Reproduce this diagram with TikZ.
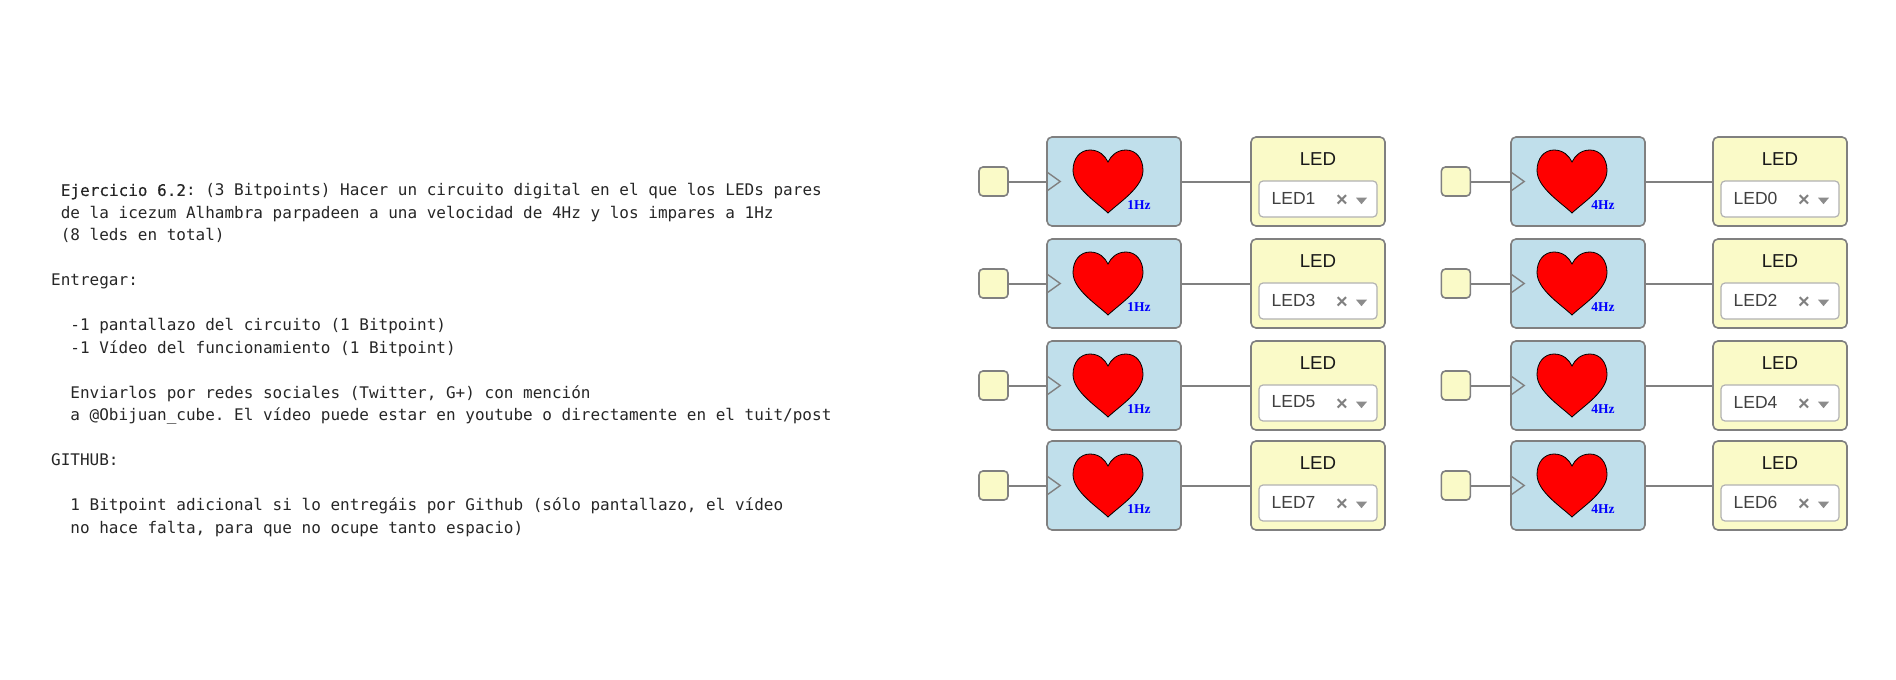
\documentclass[tikz,border=0pt]{standalone}
\usepackage{fontspec}
\setmainfont{Liberation Sans}
\setmonofont{DejaVu Sans Mono}
\newfontfamily\hzfont{Liberation Serif}
\newfontfamily\boldmono[FakeBold=0.5]{DejaVu Sans Mono}
\usetikzlibrary{positioning}
\definecolor{wiregray}{HTML}{808080}
\definecolor{blockblue}{HTML}{C0DFEB}
\definecolor{blockyellow}{HTML}{FAFAC8}
\tikzset{
block/.style={draw=wiregray, line width=1.6pt, rounded corners=5pt, minimum width=134pt, minimum height=89pt, inner sep=0pt},
clockblock/.style={block, fill=blockblue},
ledblock/.style={block, fill=blockyellow},
inputblock/.style={draw=wiregray, line width=1.6pt, rounded corners=4pt, fill=blockyellow, minimum width=29pt, minimum height=29pt, inner sep=0pt},
wire/.style={draw=wiregray, line width=2pt},
selectbox/.style={draw=black!30, line width=1.2pt, rounded corners=4pt, fill=white, minimum width=118pt, minimum height=36pt, inner sep=0pt},
ledtitle/.style={font=\fontsize{18.7}{20}\selectfont, text=black!90, inner sep=0pt},
ledname/.style={font=\fontsize{17.5}{18}\selectfont, text=black!75, inner sep=0pt},
hzlabel/.style={font=\hzfont\bfseries\fontsize{13.5}{14}\selectfont, text=blue, inner sep=0pt},
clearmark/.style={font=\bfseries\fontsize{20}{20}\selectfont, text=black!50, inner sep=0pt},
}
\begin{document}
\begin{tikzpicture}[x=1pt,y=-1pt]
  \useasboundingbox (0,0) rectangle (1896,680);
  % statement text
  \node (statement) [anchor=north west, inner sep=0pt, align=left, text=black!85, font=\ttfamily\fontsize{16}{22.5}\selectfont] at (51,183.5) {%
    \ {\boldmono Ejercicio 6.2}: (3 Bitpoints) Hacer un circuito digital en el que los LEDs pares\\
    \ de la icezum Alhambra parpadeen a una velocidad de 4Hz y los impares a 1Hz\\
    \ (8 leds en total)\\
    \strut\\
    Entregar:\\
    \strut\\
    \ \ -1 pantallazo del circuito (1 Bitpoint)\\
    \ \ -1 Vídeo del funcionamiento (1 Bitpoint)\\
    \strut\\
    \ \ Enviarlos por redes sociales (Twitter, G+) con mención\\
    \ \ a @Obijuan\_cube. El vídeo puede estar en youtube o directamente en el tuit/post\\
    \strut\\
    GITHUB:\\
    \strut\\
    \ \ 1 Bitpoint adicional si lo entregáis por Github (sólo pantallazo, el vídeo\\
    \ \ no hace falta, para que no ocupe tanto espacio)};
  % blocks, column by column
  \foreach \col/\xpos/\xled/\gap/\hz/\names in {l/1114/1318/37.4pt/1Hz/{1,3,5,7}, r/1578/1780/39pt/4Hz/{0,2,4,6}} {
    \foreach \y [count=\row] in \names {
      \pgfmathsetmacro{\ypos}{\row==4 ? 485.5 : 181.5+102*(\row-1)}
      \node (blk\col\row) [clockblock] at (\xpos,\ypos) {};
      \node (led\col\row) [ledblock] at (\xled,\ypos) {};
      \node (in\col\row) [inputblock, left=\gap of blk\col\row] {};
      \draw[wire] (in\col\row) -- (blk\col\row);
      \draw[wire] (blk\col\row) -- (led\col\row);
      % clock mark
      \draw[wiregray, line width=1.4pt] (blk\col\row.west) ++(0,-10) -- ++(14,10) -- ++(-14,10);
      % heart
      \begin{scope}[shift={(blk\col\row.center)}]
        \draw[black, fill=red, line width=0.8pt] (-6,-19.5)
          .. controls (-9,-26) and (-15,-31.5) .. (-24,-31.5)
          .. controls (-34,-31.5) and (-41,-23) .. (-41,-11)
          .. controls (-41,6) and (-17,21) .. (-6,31.5)
          .. controls (5,21) and (29,6) .. (29,-11)
          .. controls (29,-23) and (22,-31.5) .. (12,-31.5)
          .. controls (3,-31.5) and (-3,-26) .. cycle;
      \end{scope}
      \node (hz\col\row) [hzlabel] at ([xshift=25pt,yshift=-24pt]blk\col\row.center) {\hz};
      % led selector
      \node (title\col\row) [ledtitle] at ([yshift=22.5pt]led\col\row.center) {LED};
      \node (sel\col\row) [selectbox] at ([yshift=-17.5pt]led\col\row.center) {};
      \node (name\col\row) [ledname, anchor=west] at ([xshift=13pt,yshift=1pt]sel\col\row.west) {LED\y};
      \node (clear\col\row) [clearmark] at ([xshift=24pt,yshift=-2pt]sel\col\row.center) {×};
      \fill[black!45] ([xshift=38pt,yshift=1.3pt]sel\col\row.center) -- ++(11,0) -- ++(-5.5,6.5) -- cycle;
    }
  }
\end{tikzpicture}
\end{document}
